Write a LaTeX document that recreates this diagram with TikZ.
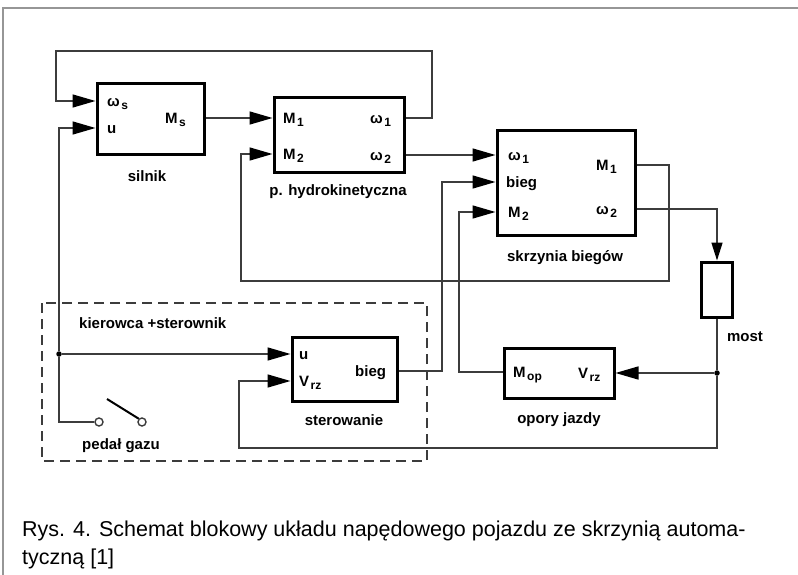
\documentclass[tikz,border=0pt]{standalone}
\usepackage{fontspec}
\setmainfont{Liberation Sans}
\usepackage{tikz}
\usetikzlibrary{arrows.meta, positioning, calc}
\definecolor{WireGray}{RGB}{60,60,60}
\definecolor{FrameGray}{RGB}{150,150,150}
\newcommand{\sbs}[2]{#1\kern1.5pt\raisebox{-3.5pt}{\fontsize{12}{12}\selectfont #2}}

\begin{document}
\begin{tikzpicture}[x=1pt, y=-1pt,
  block/.style={draw, line width=3pt, inner sep=0pt},
  port/.style={font=\fontsize{15}{15}\selectfont\bfseries, inner sep=0pt, text height=10.5pt, text depth=0pt, anchor=west},
  blkname/.style={font=\fontsize{15}{15}\selectfont\bfseries, inner sep=0pt},
  wire/.style={draw=WireGray, line width=1.5pt},
  arr/.style={wire, -{Triangle[length=23pt, width=13pt, black]}},
  jdot/.style={circle, fill=black, inner sep=0pt, minimum size=5.5pt},
  contact/.style={circle, draw=WireGray, line width=1.4pt, fill=white, inner sep=0pt, minimum size=8pt},
  captxt/.style={font=\fontsize{21.5}{21.5}\selectfont, inner sep=0pt, anchor=base west}
]
\useasboundingbox (0,0) rectangle (798,575);
% Frame
\draw[FrameGray, line width=1.5pt] (3,575) -- (3,8) -- (798,8);

% Blocks
\node[block, minimum width=107pt, minimum height=71pt] (silnik) at (150.5,119.5) {};
\node[block, minimum width=130pt, minimum height=75pt] (hydro) at (339,135.5) {};
\node[block, minimum width=138pt, minimum height=104pt] (skrz) at (566,183) {};
\node[block, minimum width=31pt, minimum height=55pt] (most) at (717,289.5) {};
\node[block, minimum width=110pt, minimum height=50pt] (opory) at (559,373) {};
\node[block, minimum width=105pt, minimum height=64pt] (ster) at (344.5,369) {};

% Block names
\node[blkname] (lsil) at (147,176) {silnik};
\node[blkname] (lhyd) at (338,192) {p. hydrokinetyczna};
\node[blkname] (lskr) at (565,258) {skrzynia biegów};
\node[blkname] (lmost) at (745,337) {most};
\node[blkname] (lop) at (559,420) {opory jazdy};
\node[blkname] (lster) at (344,420) {sterowanie};
\node[blkname, anchor=west] (lkier) at (79,323) {kierowca +sterownik};
\node[blkname] (lped) at (121,446) {pedał gazu};

% Ports
\node[port] (sws) at (107,101) {\sbs{ω}{s}};
\node[port] (su) at (107,128) {u};
\node[port] (sMs) at (165,118) {\sbs{M}{s}};
\node[port] (hM1) at (283,118) {\sbs{M}{1}};
\node[port] (hM2) at (283,154) {\sbs{M}{2}};
\node[port] (hw1) at (370,118) {\sbs{ω}{1}};
\node[port] (hw2) at (370,155) {\sbs{ω}{2}};
\node[port] (kw1) at (508,155) {\sbs{ω}{1}};
\node[port] (kbieg) at (506,182) {bieg};
\node[port] (kM2) at (508,212) {\sbs{M}{2}};
\node[port] (kM1) at (596,165) {\sbs{M}{1}};
\node[port] (kw2) at (596,209) {\sbs{ω}{2}};
\node[port] (tu) at (299,354) {u};
\node[port] (tVrz) at (299,381) {\sbs{V}{rz}};
\node[port] (tbieg) at (355,371) {bieg};
\node[port] (oMop) at (513,372) {\sbs{M}{op}};
\node[port] (oVrz) at (578,373) {\sbs{V}{rz}};

% Driver group
\draw[wire, dash pattern=on 10pt off 6pt] (42,303) rectangle (427,461);

% Routing points
\coordinate (topR) at (432,51);
\coordinate (topL) at (56,51);
\coordinate (fbR) at (669,281);
\coordinate (fbL) at (241,281);
\coordinate (botR) at (717,448);
\coordinate (botL) at (239,448);
\coordinate (mopU) at (459,212);
\coordinate (biegU) at (442,182);
\node[jdot] (jR) at (717,373) {};
\node[jdot] (jL) at (59,354) {};
\node[contact] (pedA) at (99,422) {};
\node[contact] (pedB) at (142,422) {};
\coordinate (levTop) at (107,399);

% Connectors
\draw[arr] (hydro.east |- hw1) -| (topR) -- (topL) |- (silnik.west |- sws);
\draw[arr] (silnik.east |- sMs) -- (hydro.west |- hM1);
\draw[arr] (hydro.east |- hw2) -- (skrz.west |- kw1);
\draw[arr] (skrz.east |- kM1) -| (fbR) -- (fbL) |- (hydro.west |- hM2);
\draw[wire, -{Triangle[length=18pt, width=11pt, black]}] (skrz.east |- kw2) -| (most.north);
\draw[wire] (most.south) -- (jR);
\draw[arr] (jR) -- (opory.east |- oVrz);
\draw[arr] (jR) -- (botR) -- (botL) |- (ster.west |- tVrz);
\draw[arr] (opory.west |- oMop) -| (mopU) -- (skrz.west |- kM2);
\draw[arr] (ster.east |- tbieg) -| (biegU) -- (skrz.west |- kbieg);

% Pedal and u
\draw[wire] (pedA.west) -| (jL);
\draw[arr] (jL) |- (silnik.west |- su);
\draw[arr] (jL) -- (ster.west |- tu);
\draw[line width=2pt] (levTop) -- (pedB.north west);

% Caption
\node[captxt] (cap1) at (22,536) {Rys. 4. Schemat blokowy układu napędowego pojazdu ze skrzynią automa-};
\node[captxt] (cap2) at (22,564) {tyczną [1]};
\end{tikzpicture}
\end{document}
